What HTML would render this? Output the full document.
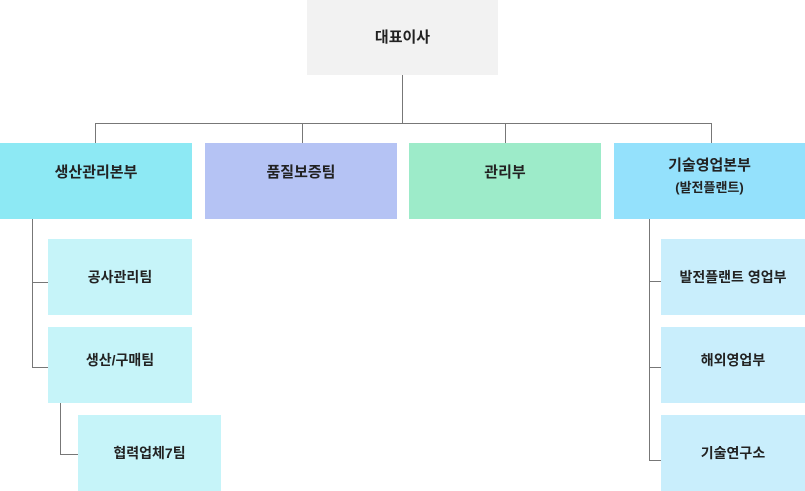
<!DOCTYPE html>
<html><head><meta charset="utf-8"><style>
body{margin:0;width:805px;height:491px;background:#fff;position:relative;overflow:hidden;font-family:"Liberation Sans","Noto Sans CJK KR",sans-serif;}
.b{position:absolute;display:flex;align-items:center;justify-content:center;text-align:center;font-size:15px;color:#222;line-height:22px;font-weight:bold;box-sizing:border-box}
.l{position:absolute;background:#777}
</style></head><body>
<div class="b" style="left:307px;top:0;width:191px;height:75px;background:#f2f2f2">대표이사</div>
<div class="l" style="left:402px;top:75px;width:1px;height:49px"></div>
<div class="l" style="left:95px;top:123px;width:617px;height:1px"></div>
<div class="l" style="left:95px;top:123px;width:1px;height:20px"></div>
<div class="l" style="left:302px;top:123px;width:1px;height:20px"></div>
<div class="l" style="left:505px;top:123px;width:1px;height:20px"></div>
<div class="l" style="left:711px;top:123px;width:1px;height:20px"></div>
<div class="b" style="left:0;top:143px;width:192px;height:76px;background:#8de9f4;padding-bottom:16px">생산관리본부</div>
<div class="b" style="left:205px;top:143px;width:192px;height:76px;background:#b5c3f4;padding-bottom:16px">품질보증팀</div>
<div class="b" style="left:409px;top:143px;width:192px;height:76px;background:#9debc9;padding-bottom:16px">관리부</div>
<div class="b" style="left:614px;top:143px;width:191px;height:76px;background:#94e1fc;padding-bottom:8px"><div>기술영업본부<br><span style="font-size:13px">(발전플랜트)</span></div></div>
<div class="l" style="left:32px;top:219px;width:1px;height:148px"></div>
<div class="l" style="left:32px;top:282px;width:16px;height:1px"></div>
<div class="l" style="left:32px;top:367px;width:16px;height:1px"></div>
<div class="l" style="left:60px;top:403px;width:1px;height:52px"></div>
<div class="l" style="left:60px;top:454px;width:18px;height:1px"></div>
<div class="b" style="left:48px;top:239px;width:144px;height:76px;background:#c6f4f9;font-size:14px">공사관리팀</div>
<div class="b" style="left:48px;top:327px;width:144px;height:76px;background:#c6f4f9;padding-bottom:10px;font-size:14px">생산/구매팀</div>
<div class="b" style="left:78px;top:415px;width:143px;height:76px;background:#c6f4f9;font-size:14px">협력업체7팀</div>
<div class="l" style="left:649px;top:219px;width:1px;height:241px"></div>
<div class="l" style="left:649px;top:281px;width:12px;height:1px"></div>
<div class="l" style="left:649px;top:367px;width:12px;height:1px"></div>
<div class="l" style="left:649px;top:460px;width:12px;height:1px"></div>
<div class="b" style="left:661px;top:239px;width:144px;height:76px;background:#c9eefc;font-size:14px">발전플랜트 영업부</div>
<div class="b" style="left:661px;top:327px;width:144px;height:76px;background:#c9eefc;padding-bottom:10px;font-size:14px">해외영업부</div>
<div class="b" style="left:661px;top:415px;width:144px;height:76px;background:#c9eefc;font-size:14px">기술연구소</div>
</body></html>
